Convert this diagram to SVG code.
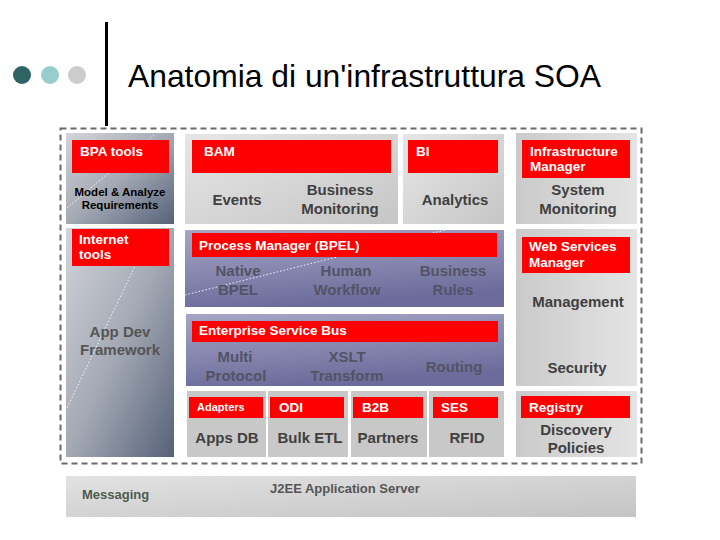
<svg xmlns="http://www.w3.org/2000/svg" width="720" height="540" viewBox="0 0 720 540">
<defs>
<linearGradient id="gGray" x1="0" y1="0" x2="1" y2="1"><stop offset="0" stop-color="#e6e6e6"/><stop offset="1" stop-color="#c6c6c6"/></linearGradient>
<linearGradient id="gGrayR" x1="0" y1="0" x2="1" y2="0"><stop offset="0" stop-color="#cacaca"/><stop offset="1" stop-color="#e4e4e4"/></linearGradient>
<linearGradient id="gSlate" x1="0" y1="0" x2="1" y2="1"><stop offset="0" stop-color="#d2d4da"/><stop offset="0.5" stop-color="#a4a9b4"/><stop offset="1" stop-color="#56627a"/></linearGradient>
<linearGradient id="gPurple" x1="0" y1="0" x2="0.3" y2="1"><stop offset="0" stop-color="#a6a6c6"/><stop offset="1" stop-color="#6c6c9c"/></linearGradient>
<linearGradient id="gBar" x1="0" y1="0" x2="1" y2="1"><stop offset="0" stop-color="#e2e2e2"/><stop offset="1" stop-color="#c4c4c4"/></linearGradient>
</defs>
<style>
.red{fill:#ff0000}
.wt{font-family:"Liberation Sans",Arial,sans-serif;font-weight:bold;font-size:13.5px;fill:#ffffff}
.lb{font-family:"Liberation Sans",Arial,sans-serif;font-weight:bold;font-size:15px;fill:#404040;text-anchor:middle}
.pl{font-family:"Liberation Sans",Arial,sans-serif;font-weight:bold;font-size:15px;fill:#535366;text-anchor:middle}
.cell{fill:#c8c8c8}
.dot{stroke:#ffffff;stroke-width:1;stroke-dasharray:1.5 2;fill:none;opacity:0.9}
</style>
<rect width="720" height="540" fill="#ffffff"/>
<g id="title">
<circle cx="22" cy="75" r="9" fill="#2e6464"/>
<circle cx="50" cy="75" r="9" fill="#99cccc"/>
<circle cx="77" cy="75" r="9" fill="#cccccc"/>
<rect x="105" y="22" width="3" height="104" fill="#000000"/>
<text x="128" y="87" font-family="Liberation Sans,Arial,sans-serif" font-size="32" textLength="473" lengthAdjust="spacingAndGlyphs" fill="#000000">Anatomia di un'infrastruttura SOA</text>
</g>
<rect id="border" x="60.5" y="128.5" width="581" height="335" fill="none" stroke="#6a6a6a" stroke-width="2" stroke-dasharray="6 4"/>
<g id="bpa">
<rect x="66" y="133" width="108" height="91" fill="url(#gSlate)"/>
<line x1="67" y1="208" x2="155" y2="134" class="dot"/>
<rect x="72" y="140" width="97" height="33" class="red"/>
<text x="80" y="156" class="wt">BPA tools</text>
<text x="120" y="196" font-family="Liberation Sans,Arial,sans-serif" font-weight="bold" font-size="11.5" fill="#000" text-anchor="middle">Model &amp; Analyze</text>
<text x="120" y="209" font-family="Liberation Sans,Arial,sans-serif" font-weight="bold" font-size="11.5" fill="#000" text-anchor="middle">Requirements</text>
</g>
<g id="internet">
<rect x="66" y="228" width="108" height="229" fill="url(#gSlate)"/>
<line x1="136" y1="264" x2="67" y2="408" class="dot"/>
<rect x="72" y="229" width="97" height="37" class="red"/>
<text x="79" y="244" class="wt">Internet</text>
<text x="79" y="259" class="wt">tools</text>
<text x="120" y="337" class="lb" style="fill:#555555">App Dev</text>
<text x="120" y="355" class="lb" style="fill:#555555">Framework</text>
</g>
<g id="bam">
<rect x="185" y="134" width="213" height="90" fill="url(#gGray)"/>
<rect x="192" y="140" width="199" height="33" class="red"/>
<text x="204" y="156" class="wt">BAM</text>
<text x="237" y="205" class="lb">Events</text>
<text x="340" y="195" class="lb">Business</text>
<text x="340" y="214" class="lb">Monitoring</text>
</g>
<g id="bi">
<rect x="403" y="134" width="101" height="90" fill="url(#gGray)"/>
<rect x="408" y="140" width="90" height="33" class="red"/>
<text x="416" y="156" class="wt">BI</text>
<text x="455" y="205" class="lb">Analytics</text>
</g>
<g id="infra">
<rect x="516" y="133" width="121" height="91" fill="url(#gGrayR)"/>
<rect x="522" y="140" width="108" height="38" class="red"/>
<text x="530" y="156" class="wt">Infrastructure</text>
<text x="530" y="171" class="wt">Manager</text>
<text x="578" y="195" class="lb">System</text>
<text x="578" y="214" class="lb">Monitoring</text>
</g>
<g id="bpel">
<rect x="185" y="230" width="319" height="77" fill="url(#gPurple)"/>
<line x1="185" y1="295" x2="457" y2="227" class="dot"/>
<rect x="192" y="233" width="305" height="24" class="red"/>
<text x="199" y="250" class="wt">Process Manager (BPEL)</text>
<text x="238" y="276" class="pl">Native</text>
<text x="238" y="295" class="pl">BPEL</text>
<text x="346" y="276" class="pl">Human</text>
<text x="347" y="295" class="pl">Workflow</text>
<text x="453" y="276" class="pl">Business</text>
<text x="453" y="295" class="pl">Rules</text>
</g>
<g id="wsm">
<rect x="516" y="229" width="121" height="157" fill="url(#gGrayR)"/>
<rect x="522" y="237" width="108" height="36" class="red"/>
<text x="529" y="251" class="wt">Web Services</text>
<text x="529" y="267" class="wt">Manager</text>
<text x="578" y="307" class="lb">Management</text>
<text x="577" y="373" class="lb">Security</text>
</g>
<g id="esb">
<rect x="186" y="314" width="318" height="72" fill="url(#gPurple)"/>
<rect x="192" y="321" width="306" height="21" class="red"/>
<text x="199" y="335" class="wt">Enterprise Service Bus</text>
<text x="235" y="362" class="pl">Multi</text>
<text x="236" y="381" class="pl">Protocol</text>
<text x="347" y="362" class="pl">XSLT</text>
<text x="347" y="381" class="pl">Transform</text>
<text x="454" y="372" class="pl">Routing</text>
</g>
<g id="adapters">
<rect x="187" y="391" width="79" height="66" class="cell"/>
<rect x="189" y="397" width="74" height="21" class="red"/>
<text x="197" y="411" class="wt" style="font-size:11px">Adapters</text>
<text x="227" y="443" class="lb">Apps DB</text>
</g>
<g id="odi">
<rect x="268" y="391" width="80" height="66" class="cell"/>
<rect x="270" y="397" width="74" height="21" class="red"/>
<text x="279" y="412" class="wt">ODI</text>
<text x="310" y="443" class="lb">Bulk ETL</text>
</g>
<g id="b2b">
<rect x="351" y="391" width="76" height="66" class="cell"/>
<rect x="353" y="397" width="70" height="21" class="red"/>
<text x="362" y="412" class="wt">B2B</text>
<text x="388" y="443" class="lb">Partners</text>
</g>
<g id="ses">
<rect x="429" y="391" width="75" height="66" class="cell"/>
<rect x="433" y="397" width="65" height="21" class="red"/>
<text x="441" y="412" class="wt">SES</text>
<text x="467" y="443" class="lb">RFID</text>
</g>
<g id="registry">
<rect x="516" y="391" width="121" height="66" fill="url(#gGrayR)"/>
<rect x="521" y="396" width="109" height="22" class="red"/>
<text x="529" y="412" class="wt">Registry</text>
<text x="576" y="435" class="lb">Discovery</text>
<text x="576" y="453" class="lb">Policies</text>
</g>
<g id="server">
<rect x="66" y="476" width="570" height="41" fill="url(#gBar)"/>
<text x="82" y="499" font-family="Liberation Sans,Arial,sans-serif" font-weight="bold" font-size="13" fill="#505a50">Messaging</text>
<text x="270" y="493" font-family="Liberation Sans,Arial,sans-serif" font-weight="bold" font-size="13" fill="#555555">J2EE Application Server</text>
</g>
</svg>
